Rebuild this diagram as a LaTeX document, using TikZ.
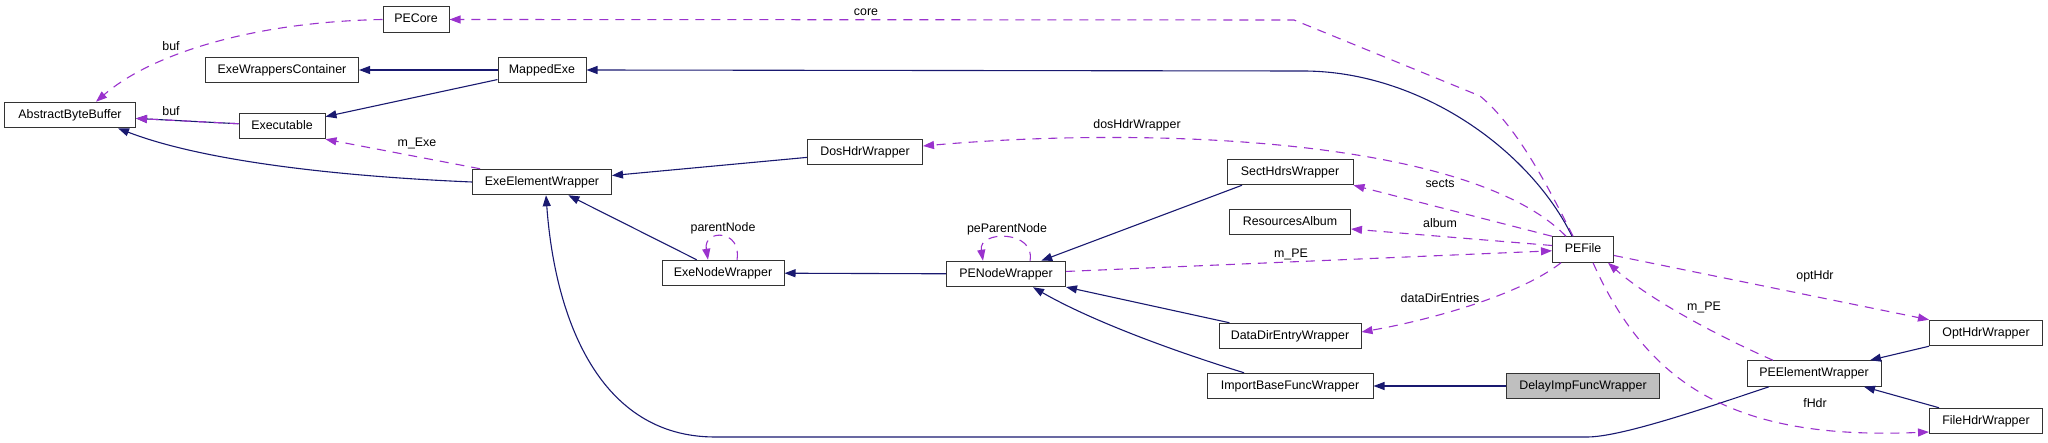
\documentclass[tikz,border=0pt]{standalone}
\usepackage{fontspec}
\setmainfont{Liberation Sans}
\usetikzlibrary{arrows.meta}
\definecolor{navy}{HTML}{191970}
\definecolor{orchid}{HTML}{9A32CD}
\definecolor{frame}{HTML}{333333}
\definecolor{grey}{HTML}{BFBFBF}

\begin{document}
\begin{tikzpicture}[x=1pt,y=-1pt,
  cls/.style={draw=frame,line width=1pt,fill=white,minimum height=25.5pt,inner sep=2pt,text height=9pt,text depth=2.5pt,font=\fontsize{12.4}{14}\selectfont},
  lbl/.style={inner sep=0pt,text height=9pt,text depth=2.5pt,font=\fontsize{12.4}{14}\selectfont},
  inherit/.style={navy,line width=1.1pt,-{Triangle[length=11pt,width=8pt]}},
  usage/.style={orchid,line width=1.1pt,dash pattern=on 9pt off 7pt,-{Triangle[length=11pt,width=8pt]}}]
\useasboundingbox (0,0) rectangle (2048,443);

% classes
\node[cls,minimum width=131pt] (absbuf) at (70,115) {AbstractByteBuffer};
\node[cls,minimum width=66pt] (pecore) at (416,19.5) {PECore};
\node[cls,minimum width=153pt] (exewc) at (282,70) {ExeWrappersContainer};
\node[cls,minimum width=88pt] (mapped) at (542,70) {MappedExe};
\node[cls,minimum width=86pt] (executable) at (282,126) {Executable};
\node[cls,minimum width=139pt] (exeelem) at (542,182) {ExeElementWrapper};
\node[cls,minimum width=115pt] (doshdr) at (865,152) {DosHdrWrapper};
\node[cls,minimum width=126pt] (sect) at (1290,172) {SectHdrsWrapper};
\node[cls,minimum width=121pt] (res) at (1290,222) {ResourcesAlbum};
\node[cls,minimum width=122pt] (exenode) at (723,273) {ExeNodeWrapper};
\node[cls,minimum width=119pt] (penode) at (1006,274) {PENodeWrapper};
\node[cls,minimum width=61pt] (pefile) at (1583,249.5) {PEFile};
\node[cls,minimum width=142pt] (datadir) at (1290,336) {DataDirEntryWrapper};
\node[cls,minimum width=166pt] (importbase) at (1290,386) {ImportBaseFuncWrapper};
\node[cls,minimum width=153pt,fill=grey] (delayimp) at (1583,386) {DelayImpFuncWrapper};
\node[cls,minimum width=113pt] (opthdr) at (1986,333) {OptHdrWrapper};
\node[cls,minimum width=134pt] (peelem) at (1814,373.5) {PEElementWrapper};
\node[cls,minimum width=113pt] (filehdr) at (1986,421) {FileHdrWrapper};

% inheritance
\draw[inherit] (executable) -- (absbuf);
\draw[inherit] (mapped) -- (exewc);
\draw[inherit] (mapped) -- (executable);
\draw[inherit] (exeelem.west) .. controls (330,176) and (200,160) .. ([xshift=48pt]absbuf.south);
\draw[inherit] (doshdr) -- (exeelem);
\draw[inherit] (exenode) -- (exeelem);
\draw[inherit] (penode) -- (exenode);
\draw[inherit] ([xshift=-48pt]sect.south) -- (penode);
\draw[inherit] (datadir) -- (penode);
\draw[inherit] ([xshift=-46pt]importbase.north) .. controls (1170,350) and (1090,320) .. ([xshift=27pt]penode.south);
\draw[inherit] (delayimp) -- (importbase);
\draw[inherit] ([xshift=-11pt]pefile.north) .. controls (1530,150) and (1420,71) .. (1303,71) -- (mapped.east);
\draw[inherit] (opthdr.south west) -- ([xshift=56pt]peelem.north);
\draw[inherit] ([xshift=-47pt]filehdr.north) -- ([xshift=50pt]peelem.south);
\draw[inherit] ([xshift=-45pt]peelem.south) .. controls (1700,410) and (1620,437) .. (1587,437) -- (715,437)
  .. controls (600,437) and (555,320) .. ([xshift=4pt]exeelem.south);

% members
\draw[usage] (executable) -- (absbuf);
\draw[usage] (pecore.west) .. controls (250,22) and (150,55) .. ([xshift=26pt]absbuf.north);
\draw[usage] ([xshift=-62pt]exeelem.north) -- (executable.south east);
\draw[usage] ([xshift=14pt]exenode.north) .. controls (742,229) and (703,229) .. ([xshift=-15pt]exenode.north);
\draw[usage] ([xshift=24pt]penode.north) .. controls (1036,230) and (978,230) .. ([xshift=-23pt]penode.north);
\draw[usage] (penode) -- (pefile);
\draw[usage] ([xshift=-10pt]pefile.north) .. controls (1545,180) and (1515,125) .. (1480,96) -- (1294,20) -- (pecore.east);
\draw[usage] ([xshift=-17pt]pefile.north) .. controls (1470,138) and (1150,126) .. ([yshift=6pt]doshdr.east);
\draw[usage] (pefile.north west) -- (sect.south east);
\draw[usage] ([yshift=4pt]pefile.west) -- ([yshift=-7pt]res.east);
\draw[usage] ([xshift=-22pt]pefile.south) .. controls (1520,295) and (1430,320) .. ([yshift=4pt]datadir.east);
\draw[usage] ([yshift=-6pt]pefile.east) -- (opthdr.north west);
\draw[usage] ([xshift=-41pt]peelem.north) .. controls (1720,337) and (1650,300) .. ([xshift=25pt]pefile.south);
\draw[usage] ([xshift=10pt]pefile.south) .. controls (1650,390) and (1740,440) .. ([yshift=-11pt]filehdr.west);

% member names
\node[lbl] (lbuf) at (171,112) {buf};
\node[lbl] (lbufcore) at (171,47) {buf};
\node[lbl] (lexe) at (417,143) {m\_Exe};
\node[lbl] (lcore) at (866,12) {core};
\node[lbl] (ldos) at (1137,125) {dosHdrWrapper};
\node[lbl] (lsects) at (1440,184) {sects};
\node[lbl] (lalbum) at (1440,224) {album};
\node[lbl] (lmpe) at (1291,254) {m\_PE};
\node[lbl] (ldata) at (1440,299) {dataDirEntries};
\node[lbl] (lopt) at (1815,276) {optHdr};
\node[lbl] (lmpeelem) at (1704,307) {m\_PE};
\node[lbl] (lfhdr) at (1815,404) {fHdr};
\node[lbl] (lparent) at (723,228) {parentNode};
\node[lbl] (lpeparent) at (1007,229) {peParentNode};
\end{tikzpicture}
\end{document}
